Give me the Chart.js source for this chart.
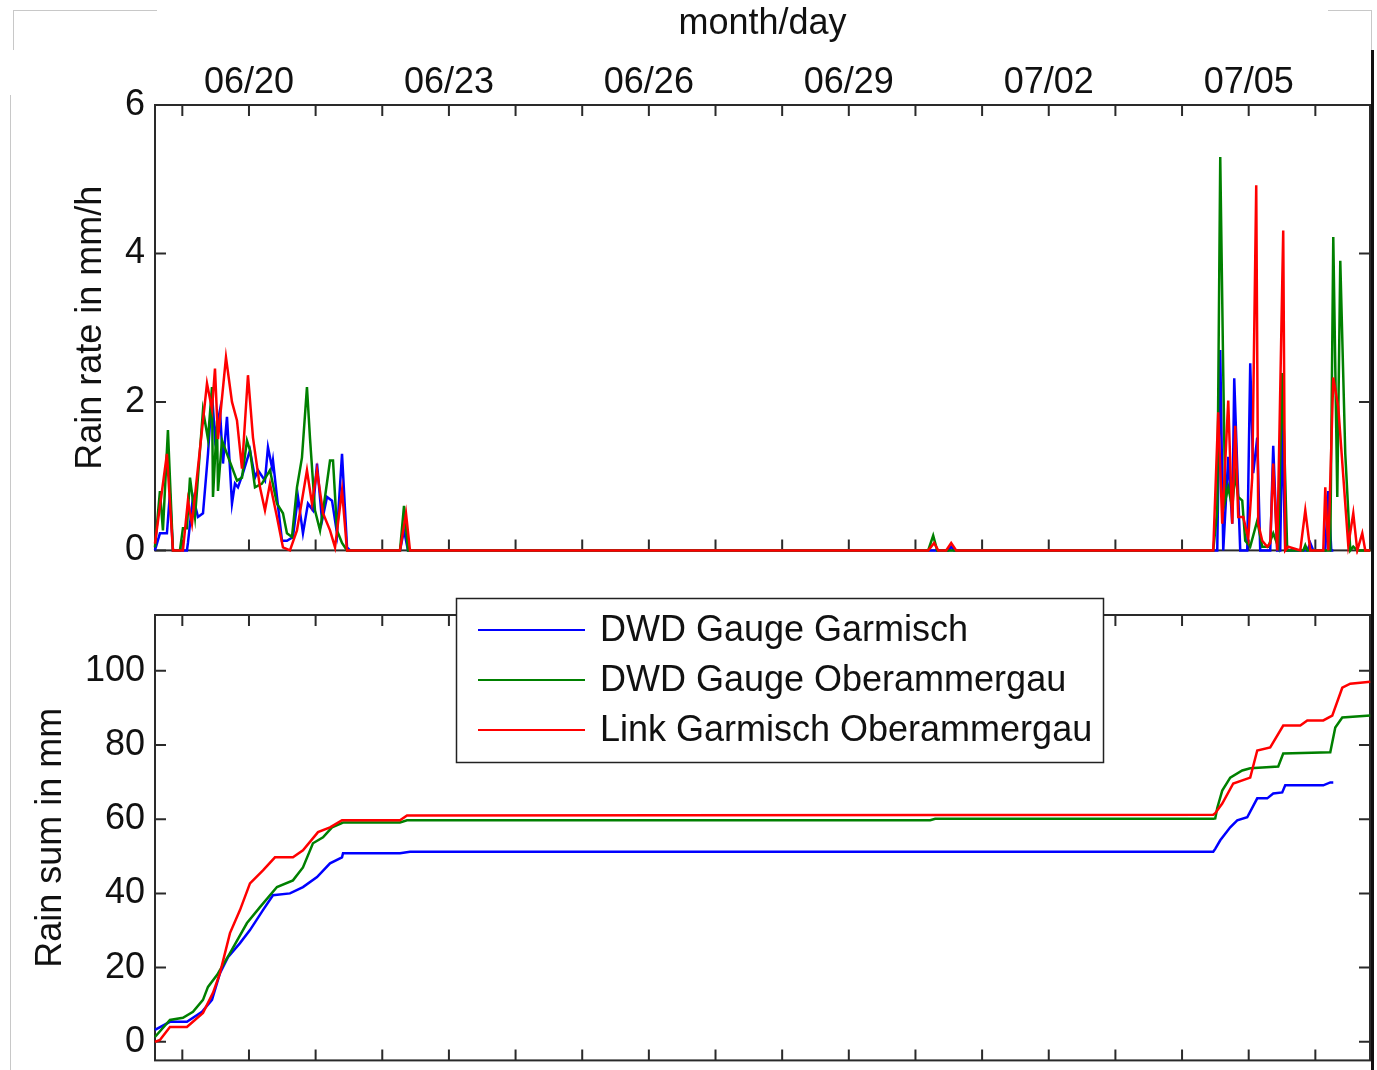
<!DOCTYPE html>
<html>
<head>
<meta charset="utf-8">
<script src="https://cdn.jsdelivr.net/npm/chart.js@4.4.0/dist/chart.umd.min.js"></script>
<style>
  body { margin: 0; background: #fff; }
  #wrap { position: relative; width: 1377px; height: 1070px; overflow: hidden; background: #fff; }
  canvas { position: absolute; left: 0; }
  #rateChart { top: 0; }
  #sumChart { top: 575px; }
  .edge { position: absolute; }
</style>
</head>
<body>
<div id="wrap">
  <canvas id="rateChart" width="1377" height="582"></canvas>
  <canvas id="sumChart" width="1377" height="517"></canvas>
  <div class="edge" style="left:13px;top:10px;width:144px;height:1px;background:#c8c8c8"></div>
  <div class="edge" style="left:13px;top:10px;width:1px;height:40px;background:#c8c8c8"></div>
  <div class="edge" style="left:10px;top:95px;width:1px;height:975px;background:#c8c8c8"></div>
  <div class="edge" style="left:1328px;top:10px;width:44px;height:1px;background:#c8c8c8"></div>
  <div class="edge" style="left:1371px;top:10px;width:1px;height:40px;background:#c8c8c8"></div>
  <div class="edge" style="left:1371px;top:50px;width:3px;height:1020px;background:#111"></div>
</div>
<script>
// x values are days of June: 20 = 06/20 00:00, 32 = 07/02 00:00
const dayTicks = [19, 20, 21, 22, 23, 24, 25, 26, 27, 28, 29, 30, 31, 32, 33, 34, 35, 36];
const labelDays = [20, 23, 26, 29, 32, 35];
const dayLabels = ['06/20', '06/23', '06/26', '06/29', '07/02', '07/05'];
const rateTicks = [0, 2, 4, 6];
const sumTicks = [0, 20, 40, 60, 80, 100];
const seriesNames = ['DWD Gauge Garmisch', 'DWD Gauge Oberammergau', 'Link Garmisch Oberammergau'];
const seriesColors = ['#0000ff', '#008000', '#ff0000'];

// rain rate, mm/h
const rateGarmischT = [18.589, 18.664, 18.769, 18.814, 18.859, 19.069, 19.084, 19.160, 19.235, 19.310, 19.385, 19.445, 19.490, 19.565, 19.610, 19.670, 19.745, 19.790, 19.835, 19.910, 20.015, 20.090, 20.135, 20.240, 20.285, 20.345, 20.360, 20.420, 20.495, 20.570, 20.660, 20.735, 20.810, 20.885, 20.960, 21.021, 21.096, 21.171, 21.246, 21.321, 21.396, 21.471, 21.516,
  22.266, 22.326, 22.386, 30.491, 30.536, 30.581,
  34.528, 34.573, 34.618, 34.693, 34.753, 34.783, 34.828, 34.873, 34.978, 35.023, 35.068, 35.128, 35.173, 35.323, 35.368, 35.428, 35.473, 35.503, 35.548, 35.879, 35.924, 35.969, 36.149, 36.194, 36.239, 36.270];
const rateGarmisch = [0, 0.23, 0.23, 0.77, 0, 0, 0.1, 0.72, 0.45, 0.5, 1.3, 2.12, 1.52, 1.89, 1.17, 1.8, 0.63, 0.9, 0.85, 1.04, 1.35, 0.98, 1.08, 0.94, 1.39, 1.12, 1.21, 0.72, 0.13, 0.13, 0.18, 0.72, 0.23, 0.63, 0.54, 1.17, 0.4, 0.72, 0.67, 0.23, 1.3, 0.04, 0,
  0, 0.27, 0, 0, 0.05, 0,
  0, 2.7, 0, 1.26, 0.36, 2.32, 1.12, 0, 0, 2.52, 1.04, 1.52, 0, 0, 1.41, 0, 0, 1.75, 0, 0, 0.1, 0, 0, 0.8, 0, 0];

const rateOberT = [18.589, 18.664, 18.709, 18.784, 18.859, 18.964, 19.009, 19.069, 19.115, 19.190, 19.310, 19.385, 19.445, 19.460, 19.520, 19.535, 19.595, 19.670, 19.820, 19.895, 19.970, 20.015, 20.090, 20.195, 20.315, 20.420, 20.510, 20.570, 20.645, 20.720, 20.795, 20.870, 20.915, 20.990, 21.066, 21.141, 21.216, 21.261, 21.321, 21.396, 21.471,
  22.266, 22.326, 22.386, 30.191, 30.266, 30.326,
  34.468, 34.528, 34.573, 34.618, 34.648, 34.693, 34.753, 34.798, 34.843, 34.903, 34.948, 35.023, 35.128, 35.203, 35.293, 35.368, 35.443, 35.503, 35.578, 35.819, 35.849, 35.879, 36.224, 36.269, 36.329, 36.374, 36.449, 36.524, 36.569, 36.629, 36.824];
const rateOber = [0.04, 0.8, 0.27, 1.62, 0, 0, 0.3, 0.3, 0.98, 0.45, 1.89, 1.5, 2.2, 0.72, 1.75, 0.8, 1.48, 1.3, 0.94, 0.98, 1.48, 1.35, 0.85, 0.9, 1.08, 0.63, 0.5, 0.23, 0.18, 0.85, 1.25, 2.2, 1.52, 0.54, 0.27, 0.72, 1.21, 1.21, 0.27, 0.1, 0,
  0, 0.6, 0, 0, 0.2, 0,
  0, 0.54, 5.3, 2.39, 0.67, 0.85, 0.58, 1.04, 0.72, 0.67, 0.13, 0.05, 0.4, 0.05, 0.05, 0.23, 0.05, 2.39, 0, 0, 0.07, 0, 0, 4.22, 0.72, 3.9, 1.3, 0, 0.05, 0, 0];

const rateLinkT = [18.589, 18.769, 18.859, 19.009, 19.084, 19.145, 19.370, 19.445, 19.490, 19.535, 19.655, 19.745, 19.820, 19.895, 19.985, 20.060, 20.165, 20.240, 20.315, 20.420, 20.510, 20.615, 20.720, 20.870, 20.945, 21.021, 21.111, 21.216, 21.291, 21.396, 21.471,
  22.266, 22.356, 22.416, 30.191, 30.281, 30.341, 30.461, 30.536, 30.611,
  34.468, 34.543, 34.603, 34.693, 34.753, 34.798, 34.843, 34.918, 34.993, 35.053, 35.113, 35.143, 35.203, 35.278, 35.323, 35.368, 35.428, 35.518, 35.548, 35.593, 35.774, 35.849, 35.924, 36.119, 36.149, 36.194, 36.269, 36.344, 36.494, 36.569, 36.629, 36.704, 36.749, 36.824];
const rateLink = [0.09, 1.3, 0, 0, 0.67, 0.36, 2.25, 1.9, 2.45, 1.5, 2.6, 2.0, 1.75, 1.1, 2.36, 1.52, 0.85, 0.54, 0.9, 0.45, 0.04, 0, 0.27, 1.08, 0.63, 1.08, 0.5, 0.27, 0.04, 0.81, 0,
  0, 0.5, 0, 0, 0.1, 0, 0, 0.1, 0,
  0, 1.86, 0.36, 2.02, 0.36, 1.68, 0.45, 0.45, 0.16, 0.98, 4.92, 0.36, 0.13, 0.05, 0.1, 1.17, 0, 4.31, 0, 0.05, 0, 0.54, 0, 0, 0.85, 0, 2.33, 1.93, 0.07, 0.5, 0, 0.23, 0, 0];

// rain sum, mm
const sumGarmischT = [18.589, 18.814, 19.069, 19.295, 19.445, 19.565, 19.685, 19.865, 20.015, 20.210, 20.360, 20.615, 20.810, 21.021, 21.216, 21.396, 21.411, 22.266, 22.416, 34.468, 34.498, 34.573, 34.723, 34.828, 34.978, 35.128, 35.278, 35.368, 35.503, 35.548, 36.119, 36.224, 36.269];
const sumGarmisch = [3.2, 5.4, 5.4, 8.1, 11.3, 18.5, 22.8, 26.6, 30.1, 35.5, 39.5, 40, 41.7, 44.4, 48.1, 49.7, 50.8, 50.8, 51.2, 51.2, 52, 54.3, 57.8, 59.7, 60.5, 65.6, 65.6, 66.9, 67.2, 69.1, 69.1, 69.9, 69.9];

const sumOberT = [18.589, 18.814, 19.009, 19.160, 19.310, 19.385, 19.520, 19.715, 19.970, 20.165, 20.420, 20.660, 20.810, 20.960, 21.111, 21.246, 21.411, 22.266, 22.371, 30.221, 30.296, 34.468, 34.498, 34.528, 34.603, 34.723, 34.903, 35.023, 35.443, 35.518, 36.224, 36.299, 36.404, 36.824];
const sumOber = [1.3, 5.9, 6.5, 8.1, 11.3, 14.8, 18, 23.9, 32, 36.3, 41.7, 43.5, 47, 53.5, 55.1, 57.8, 59.1, 59.1, 59.7, 59.7, 60.1, 60.1, 60.2, 63, 67.7, 71.2, 73.1, 73.7, 74.2, 77.7, 78, 84.7, 87.4, 87.9];

const sumLinkT = [18.589, 18.664, 18.814, 19.069, 19.310, 19.460, 19.565, 19.715, 19.865, 20.015, 20.210, 20.390, 20.660, 20.810, 21.036, 21.216, 21.396, 22.266, 22.371, 34.468, 34.498, 34.603, 34.768, 35.023, 35.128, 35.323, 35.518, 35.774, 35.879, 36.119, 36.254, 36.404, 36.524, 36.824];
const sumLink = [0, 0.5, 4, 4, 7.8, 13.2, 18.5, 29.3, 35.5, 42.7, 46.2, 49.7, 49.7, 51.6, 56.5, 57.8, 59.7, 59.7, 61, 61.2, 61.6, 64.2, 69.6, 71.2, 78.5, 79.3, 85.2, 85.2, 86.6, 86.6, 87.9, 95.4, 96.5, 97];

Chart.defaults.font.family = '"Liberation Sans", Arial, sans-serif';
Chart.defaults.font.size = 36;
Chart.defaults.color = '#111';

function pts(t, v) {
  return t.map((x, i) => ({ x: x, y: v[i] }));
}

function lineSet(i, t, v) {
  return {
    label: seriesNames[i],
    data: pts(t, v),
    borderColor: seriesColors[i],
    borderWidth: 2.5,
    pointRadius: 0,
    tension: 0,
    fill: false,
    clip: 4,
    order: 2 - i
  };
}

// box and inward ticks on all four sides
function frameTicks(yTicks) {
  return {
    id: 'frameTicks',
    beforeDatasetsDraw(chart) {
      const { ctx, chartArea: a, scales } = chart;
      ctx.save();
      ctx.strokeStyle = '#2a2a2a';
      ctx.lineWidth = 2;
      ctx.beginPath();
      dayTicks.forEach(d => {
        const x = scales.x.getPixelForValue(d);
        ctx.moveTo(x, a.top); ctx.lineTo(x, a.top + 11);
        ctx.moveTo(x, a.bottom); ctx.lineTo(x, a.bottom - 11);
      });
      yTicks.forEach(v => {
        const y = scales.y.getPixelForValue(v);
        ctx.moveTo(a.left, y); ctx.lineTo(a.left + 11, y);
        ctx.moveTo(a.right, y); ctx.lineTo(a.right - 11, y);
      });
      ctx.stroke();
      ctx.strokeRect(a.left, a.top, a.right - a.left, a.bottom - a.top);
      ctx.restore();
    }
  };
}

const boxLegend = {
  id: 'boxLegend',
  afterDraw(chart) {
    const ctx = chart.ctx;
    ctx.save();
    ctx.fillStyle = '#fff';
    ctx.fillRect(456, 23, 647, 164);
    ctx.strokeStyle = '#222';
    ctx.lineWidth = 1.5;
    ctx.strokeRect(456.5, 23.5, 647, 164);
    ctx.font = '36px "Liberation Sans", Arial, sans-serif';
    ctx.textBaseline = 'middle';
    chart.data.datasets.forEach((ds, i) => {
      const y = 55 + i * 50;
      ctx.strokeStyle = ds.borderColor;
      ctx.lineWidth = 2;
      ctx.beginPath();
      ctx.moveTo(478, y);
      ctx.lineTo(585, y);
      ctx.stroke();
      ctx.fillStyle = '#111';
      ctx.fillText(ds.label, 600, y + 1);
    });
    ctx.restore();
  }
};

const xMin = 18.59;
const xMax = 36.82;

new Chart(document.getElementById('rateChart'), {
  type: 'line',
  data: {
    datasets: [
      lineSet(0, rateGarmischT, rateGarmisch),
      lineSet(1, rateOberT, rateOber),
      lineSet(2, rateLinkT, rateLink)
    ]
  },
  options: {
    responsive: false,
    animation: false,
    layout: { padding: { left: 65, right: 7, top: 0, bottom: 0 } },
    plugins: { legend: { display: false }, tooltip: { enabled: false } },
    scales: {
      x: {
        type: 'linear',
        position: 'top',
        min: xMin,
        max: xMax,
        afterBuildTicks: s => { s.ticks = dayTicks.map(v => ({ value: v })); },
        afterFit: s => { s.height = 105; },
        grid: { display: false, drawTicks: false },
        border: { display: false },
        ticks: {
          autoSkip: false,
          maxRotation: 0,
          padding: 0,
          callback: v => {
            const i = labelDays.indexOf(v);
            return i < 0 ? '' : dayLabels[i];
          }
        },
        title: { display: true, text: 'month/day', padding: { top: 2, bottom: 0 } }
      },
      y: {
        min: 0,
        max: 6,
        afterBuildTicks: s => { s.ticks = rateTicks.map(v => ({ value: v })); },
        afterFit: s => { s.width = 90; },
        grid: { display: false, drawTicks: false },
        border: { display: false },
        ticks: { padding: 10 },
        title: { display: true, text: 'Rain rate in mm/h' }
      }
    }
  },
  plugins: [frameTicks(rateTicks)]
});

new Chart(document.getElementById('sumChart'), {
  type: 'line',
  data: {
    datasets: [
      lineSet(0, sumGarmischT, sumGarmisch),
      lineSet(1, sumOberT, sumOber),
      lineSet(2, sumLinkT, sumLink)
    ]
  },
  options: {
    responsive: false,
    animation: false,
    layout: { padding: { left: 25, right: 7, top: 40, bottom: 0 } },
    plugins: { legend: { display: false }, tooltip: { enabled: false } },
    scales: {
      x: {
        type: 'linear',
        display: false,
        min: xMin,
        max: xMax
      },
      y: {
        min: -5,
        max: 115,
        afterBuildTicks: s => { s.ticks = sumTicks.map(v => ({ value: v })); },
        afterFit: s => { s.width = 130; },
        grid: { display: false, drawTicks: false },
        border: { display: false },
        ticks: { padding: 10 },
        title: { display: true, text: 'Rain sum in mm' }
      }
    }
  },
  plugins: [frameTicks(sumTicks), boxLegend]
});
</script>
</body>
</html>
